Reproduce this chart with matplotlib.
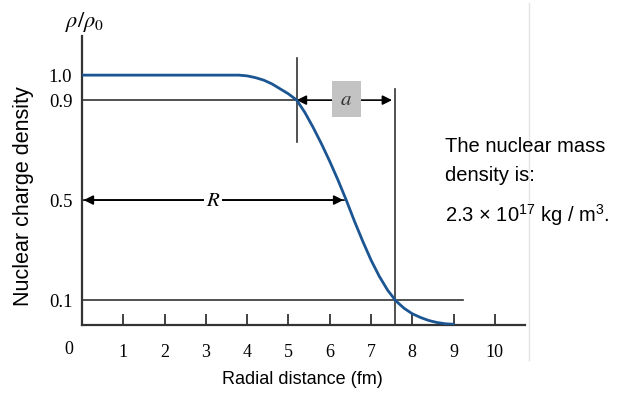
import matplotlib
matplotlib.use("Agg")
import matplotlib.pyplot as plt
from matplotlib.lines import Line2D

# density profile
r_fm = [0.0, 3.8, 4.0, 4.2, 4.4, 4.6, 4.8, 5.0, 5.2, 5.4, 5.6, 5.8, 6.0,
        6.2, 6.4, 6.6, 6.8, 7.0, 7.2, 7.4, 7.6, 7.8, 8.0, 8.2, 8.4, 8.6,
        8.8, 9.0]
rho = [1.0, 1.0, 0.997, 0.99, 0.98, 0.965, 0.945, 0.925, 0.9, 0.85, 0.79,
       0.725, 0.655, 0.58, 0.5, 0.415, 0.335, 0.26, 0.195, 0.14, 0.097,
       0.067, 0.045, 0.03, 0.018, 0.01, 0.005, 0.003]

xticks = [1, 2, 3, 4, 5, 6, 7, 8, 9, 10]
yticks = [0.1, 0.5, 0.9, 1.0]
ytick_labels = ["0.1", "0.5", "0.9", "1.0"]

R = 6.35      # half density radius
r90 = 5.2     # where rho = 0.9
r10 = 7.58    # where rho = 0.1

plt.rcParams["mathtext.fontset"] = "stix"
plt.rcParams["mathtext.rm"] = "Liberation Sans"
serif = "Liberation Serif"
sans = "Liberation Sans"
line_c = "#333333"
curve_c = "#1b5592"

fig = plt.figure(figsize=(6.2, 3.93), dpi=100)
ax = fig.add_axes([0.1323, 0.173, 0.7145, 0.735])
ax.set_xlim(0, 10.73)
ax.set_ylim(0, 1.156)

for s in ["top", "right"]:
    ax.spines[s].set_visible(False)
for s in ["left", "bottom"]:
    ax.spines[s].set_linewidth(1.6)
    ax.spines[s].set_color(line_c)

ax.set_xticks(xticks)
ax.set_xticklabels([str(t) for t in xticks], fontfamily=serif, fontsize=13)
ax.tick_params(axis="x", direction="in", length=8, width=1.3, color=line_c, pad=14)
ax.set_yticks(yticks)
ax.set_yticklabels(ytick_labels, fontfamily=serif, fontsize=13.5)
ax.tick_params(axis="y", length=0, pad=7)
ax.text(-0.32, -0.1, "0", transform=ax.transData, fontfamily=serif, fontsize=13,
        ha="center", va="center")

# guide lines
ax.plot([0, r90], [0.9, 0.9], color=line_c, lw=1.2)
ax.plot([0, 9.22], [0.1, 0.1], color=line_c, lw=1.2)
ax.plot([r90, r90], [0.732, 1.068], color=line_c, lw=1.2)
ax.plot([r10, r10], [0, 0.944], color=line_c, lw=1.2)

# density curve
ax.plot(r_fm, rho, color=curve_c, lw=2.0, solid_capstyle="round", zorder=5)

# R arrow
ax.annotate("", xy=(0.04, 0.5), xytext=(R, 0.5),
            arrowprops=dict(arrowstyle="-|>", color="black", lw=1.2,
                            mutation_scale=14, shrinkA=0, shrinkB=0))
ax.annotate("", xy=(R - 0.02, 0.5), xytext=(0.04, 0.5),
            arrowprops=dict(arrowstyle="-|>", color="black", lw=1.2,
                            mutation_scale=14, shrinkA=0, shrinkB=0))
ax.text(3.17, 0.5, "$R$", fontsize=15, ha="center", va="center",
        math_fontfamily="stix",
        bbox=dict(boxstyle="square,pad=0.1", fc="white", ec="none"))

# a arrow
ax.annotate("", xy=(r90, 0.9), xytext=(r10 - 0.07, 0.9),
            arrowprops=dict(arrowstyle="<|-|>", color="black", lw=1.2,
                            mutation_scale=14, shrinkA=0, shrinkB=0))
ax.text(6.4, 0.905, "$a$", fontsize=15, ha="center", va="center",
        color="#333333", math_fontfamily="stix",
        bbox=dict(boxstyle="square,pad=0.4", fc="#c3c3c3", ec="none"))

ax.text(0.06, 1.212, r"$\rho/\rho_\mathrm{0}$",
        fontsize=16, ha="center", va="center", math_fontfamily="stix")

ax.set_xlabel("Radial distance (fm)", fontfamily=sans, fontsize=13)
ax.set_ylabel("Nuclear charge density", fontfamily=sans, fontsize=15.5)
ax.xaxis.set_label_coords(0.497, -0.19)
ax.xaxis.label.set_va("center")
ax.yaxis.set_label_coords(-0.131, 0.446)
ax.yaxis.label.set_va("center")

fig.text(445 / 620, 1 - 146 / 393, "The nuclear mass", fontfamily=sans,
         fontsize=14.5, va="center")
fig.text(445 / 620, 1 - 175 / 393, "density is:", fontfamily=sans,
         fontsize=14.5, va="center")
fig.text(445 / 620, 1 - 215 / 393,
         r"2.3 × 10$\mathregular{^{17}}$ kg / m$\mathregular{^{3}}$.",
         fontfamily=sans, fontsize=14.5, va="center", math_fontfamily="custom")

fig.add_artist(Line2D([529 / 620, 529 / 620], [1 - 3 / 393, 1 - 360 / 393],
                      transform=fig.transFigure, color="#e4e4e4", lw=1))

fig.savefig("out.png", dpi=100, facecolor="white")
